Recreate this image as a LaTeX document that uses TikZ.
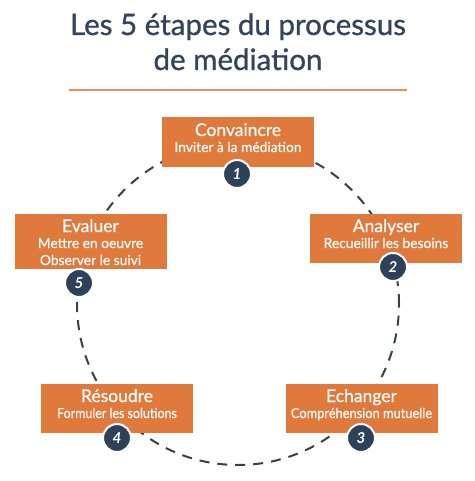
\documentclass[tikz,border=0pt]{standalone}
\usepackage{fontspec}
\setmainfont{Lato}
\newfontfamily\titlefont{Lato}[FakeBold=0.9]
\newfontfamily\boxfont{Lato}[FakeBold=0.3]
\definecolor{orangebox}{RGB}{224,122,60}
\definecolor{orangeline}{RGB}{234,142,92}
\definecolor{navy}{RGB}{45,65,88}
\definecolor{titlecol}{RGB}{52,69,90}
\definecolor{dashcol}{RGB}{55,65,78}
\tikzset{
  titletext/.style={font=\titlefont\fontsize{29.5}{32}\selectfont, text=titlecol, anchor=base, inner sep=0pt},
  stepbox/.style={fill=orangebox, draw=none, minimum width=152pt, minimum height=49pt, inner sep=0pt},
  headtext/.style={font=\boxfont\fontsize{17.5}{18}\selectfont, text=white, anchor=base, inner sep=0pt},
  subtext/.style={font=\boxfont\fontsize{13.8}{15}\selectfont, text=white, anchor=base, inner sep=0pt},
  badge/.style={circle, fill=navy, draw=white, line width=2pt, minimum size=28pt, inner sep=0pt,
    text=white, font=\fontsize{15}{16}\selectfont\bfseries\itshape},
  ring/.style={draw=dashcol, line width=2pt, dash pattern=on 10pt off 8pt},
  rule/.style={draw=orangeline, line width=2.2pt}
}
\begin{document}
\begin{tikzpicture}[x=1pt,y=-1pt]
\useasboundingbox (0,0) rectangle (474,481);
\fill[white] (0,0) rectangle (474,481);
% title
\node[titletext] (t1) at (238,35) {Les 5 étapes du processus};
\node[titletext] (t2) at (238,70) {de médiation};
\coordinate (rl) at (69,90);
\coordinate (rr) at (407,90);
\draw[rule] (rl) -- (rr);
% ring
\coordinate (c) at (238,304);
\draw[ring] (c) circle[radius=161pt];
% boxes
\node[stepbox] (b1) at (238,142) {};
\node[stepbox] (b2) at (386,238.5) {};
\node[stepbox, minimum height=55pt] (b5) at (90.5,241.5) {};
\node[stepbox] (b4) at (117,408.5) {};
\node[stepbox] (b3) at (361.5,408.5) {};
% texts
\node[headtext] (h1) at (238,136) {Convaincre};
\node[subtext] (s1) at (238,152) {Inviter à la médiation};
\node[headtext] (h2) at (386,232) {Analyser};
\node[subtext] (s2) at (386,248) {Recueillir les besoins};
\node[headtext] (h5) at (90.5,232) {Evaluer};
\node[subtext] (s5a) at (90.5,248) {Mettre en oeuvre};
\node[subtext] (s5b) at (90.5,265) {Observer le suivi};
\node[headtext] (h4) at (117,402) {Résoudre};
\node[subtext] (s4) at (117,418) {\scalebox{0.9}[1]{Formuler les solutions}};
\node[headtext] (h3) at (361.5,402) {Echanger};
\node[subtext] (s3) at (361.5,418) {\scalebox{0.93}[1]{Compréhension mutuelle}};
% badges
\node[badge] (n1) at (237,174) {1};
\node[badge] (n2) at (393,267) {2};
\node[badge] (n3) at (361,438) {3};
\node[badge] (n4) at (117,438) {4};
\node[badge] (n5) at (79,283) {5};
\end{tikzpicture}
\end{document}
